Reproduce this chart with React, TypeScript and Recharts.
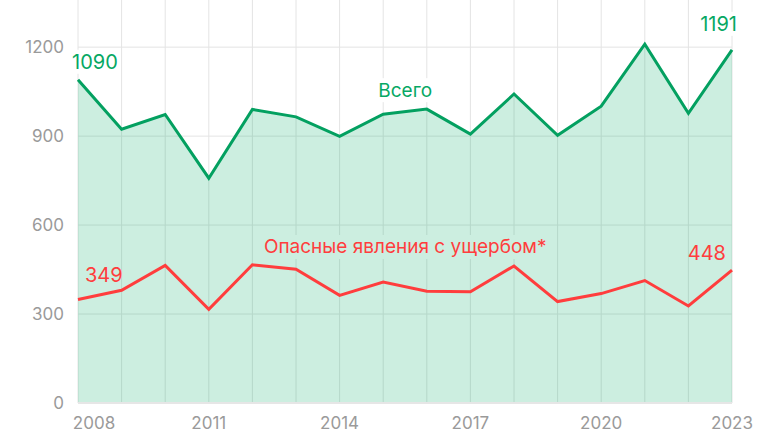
import React from 'react';
import { ComposedChart, Area, Line, XAxis, YAxis, CartesianGrid, LabelList } from 'recharts';

const years = [2008, 2009, 2010, 2011, 2012, 2013, 2014, 2015, 2016, 2017, 2018, 2019, 2020, 2021, 2022, 2023];
const totalEvents = [1090, 923, 973, 758, 990, 965, 899, 974, 991, 907, 1042, 903, 1001, 1210, 977, 1191];
const damageEvents = [349, 380, 464, 316, 466, 451, 363, 408, 377, 375, 462, 342, 369, 413, 327, 448];
const yTicks = [0, 300, 600, 900, 1200];
const xLabelYears = [2008, 2011, 2014, 2017, 2020, 2023];
const totalName = 'Всего';
const damageName = 'Опасные явления с ущербом*';

const data = years.map((year, i) => ({ year, total: totalEvents[i], damage: damageEvents[i] }));

const GREEN = '#03a060';
const GREEN_TEXT = '#06a864';
const RED = '#ff3d3d';
const FILL_SOLID = '#cceee0';
const FONT = 'Inter, Roboto, "Noto Sans", sans-serif';

const XTick = (props: any) => {
  const { x, y, payload } = props;
  const yr = Number(payload.value);
  if (!xLabelYears.includes(yr)) return null;
  const dx = yr === years[0] ? 16 : 0;
  return (
    <text x={x + dx} y={y + 26} textAnchor="middle" fill="#9a9a9a" fontSize={17} fontFamily={FONT}>
      {yr}
    </text>
  );
};

const YTick = (props: any) => {
  const { x, y, payload } = props;
  return (
    <text x={x} y={y + 6} textAnchor="end" fill="#9a9a9a" fontSize={17} fontFamily={FONT}>
      {payload.value}
    </text>
  );
};

const TotalLabel = (props: any) => {
  const { x, y, index, value } = props;
  const last = years.length - 1;
  if (index === 0) {
    return (
      <g>
        <rect x={x - 7} y={y - 30} width={50} height={24} fill="#fff" />
        <text x={x - 6} y={y - 11} fill={GREEN_TEXT} fontSize={20} fontFamily={FONT}>{value}</text>
      </g>
    );
  }
  if (index === last) {
    return (
      <g>
        <rect x={x - 33} y={y - 38} width={40} height={24} fill="#fff" />
        <text x={x + 5} y={y - 19} textAnchor="end" fill={GREEN_TEXT} fontSize={20} fontFamily={FONT}>{value}</text>
      </g>
    );
  }
  if (index === 7) {
    return (
      <g>
        <rect x={x + 22 - 30} y={y - 36} width={60} height={24} fill="#fff" />
        <text x={x + 22} y={y - 17} textAnchor="middle" fill={GREEN_TEXT} fontSize={19} fontFamily={FONT}>{totalName}</text>
      </g>
    );
  }
  return null;
};

const DamageLabel = (props: any) => {
  const { x, y, index, value } = props;
  const last = years.length - 1;
  if (index === 0) {
    return (
      <text x={x + 7} y={y - 18} fill={RED} fontSize={20} fontFamily={FONT}>{value}</text>
    );
  }
  if (index === last) {
    return (
      <text x={x - 6} y={y - 10} textAnchor="end" fill={RED} fontSize={20} fontFamily={FONT}>{value}</text>
    );
  }
  if (index === 7) {
    return (
      <g>
        <rect x={x + 22 - 148} y={y - 47} width={296} height={24} fill={FILL_SOLID} />
        <text x={x + 22} y={y - 29} textAnchor="middle" fill={RED} fontSize={19} fontFamily={FONT}>{damageName}</text>
      </g>
    );
  }
  return null;
};

export default function App() {
  return (
    <div style={{ position: 'absolute', left: 0, top: 0, width: 780, height: 440, background: '#fff' }}>
      <ComposedChart width={780} height={440} data={data} margin={{ top: 0, right: 48, bottom: 0, left: 0 }}>
        <CartesianGrid stroke="#e4e4e4" strokeWidth={1} horizontalValues={yTicks} />
        <XAxis
          dataKey="year"
          type="category"
          interval={0}
          height={37}
          tickLine={false}
          tickSize={0}
          tickMargin={0}
          axisLine={{ stroke: '#e6e6e6', strokeWidth: 2 }}
          tick={<XTick />}
        />
        <YAxis
          type="number"
          domain={[0, 1359]}
          ticks={yTicks}
          width={78}
          axisLine={false}
          tickLine={false}
          tickSize={0}
          tickMargin={14}
          tick={<YTick />}
          allowDataOverflow
        />
        <Area
          type="linear"
          dataKey="total"
          stroke={GREEN}
          strokeWidth={3}
          fill="#00a862"
          fillOpacity={0.2}
          isAnimationActive={false}
          dot={false}
          activeDot={false}
        >
          <LabelList dataKey="total" content={<TotalLabel />} />
        </Area>
        <Line
          type="linear"
          dataKey="damage"
          stroke={RED}
          strokeWidth={3}
          isAnimationActive={false}
          dot={false}
          activeDot={false}
        >
          <LabelList dataKey="damage" content={<DamageLabel />} />
        </Line>
      </ComposedChart>
    </div>
  );
}
